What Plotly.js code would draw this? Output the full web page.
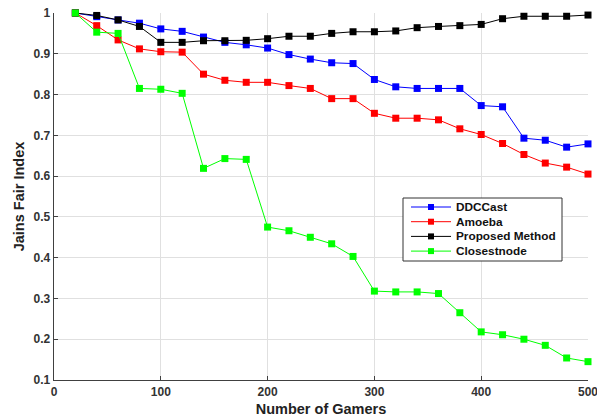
<!DOCTYPE html>
<html>
<head>
<meta charset="utf-8">
<script src="https://cdn.plot.ly/plotly-3.0.1.min.js"></script>
<style>
  html, body { margin: 0; padding: 0; background: #ffffff; }
  #chart { width: 597px; height: 419px; }
</style>
</head>
<body>
<div id="chart"></div>
<script>
// Number of gamers on the x axis
const gamers = [20, 40, 60, 80, 100, 120, 140, 160, 180, 200, 220, 240, 260,
                280, 300, 320, 340, 360, 380, 400, 420, 440, 460, 480, 500];

// Jain's fairness index per method
const ddccast = [1.000, 0.991, 0.983, 0.975, 0.961, 0.955, 0.941, 0.928, 0.922, 0.914,
                 0.898, 0.887, 0.878, 0.876, 0.837, 0.819, 0.815, 0.815, 0.815, 0.773,
                 0.770, 0.693, 0.688, 0.671, 0.679];
const amoeba = [1.000, 0.969, 0.934, 0.912, 0.905, 0.904, 0.850, 0.835, 0.830, 0.830,
                0.822, 0.815, 0.790, 0.790, 0.754, 0.742, 0.742, 0.738, 0.716, 0.702,
                0.680, 0.653, 0.632, 0.622, 0.605];
const proposed = [1.000, 0.994, 0.983, 0.967, 0.928, 0.928, 0.932, 0.932, 0.933, 0.937,
                  0.943, 0.943, 0.950, 0.954, 0.954, 0.956, 0.964, 0.967, 0.969, 0.972,
                  0.986, 0.992, 0.992, 0.992, 0.995];
const closestnode = [1.000, 0.953, 0.950, 0.815, 0.813, 0.803, 0.619, 0.643, 0.641, 0.475,
                     0.466, 0.450, 0.434, 0.403, 0.318, 0.316, 0.316, 0.312, 0.265, 0.218,
                     0.211, 0.200, 0.185, 0.154, 0.145];

const seriesNames = ['DDCCast', 'Amoeba', 'Proposed Method', 'Closestnode'];
const seriesColors = ['#0000ff', '#ff0000', '#000000', '#00ff00'];
const seriesValues = [ddccast, amoeba, proposed, closestnode];

const xTicks = [0, 100, 200, 300, 400, 500];
const yTicks = [0.1, 0.2, 0.3, 0.4, 0.5, 0.6, 0.7, 0.8, 0.9, 1];
const yTickText = ['0.1', '0.2', '0.3', '0.4', '0.5', '0.6', '0.7', '0.8', '0.9', '1'];

const FONT = 'Liberation Sans, Arial, sans-serif';

const W = 597, H = 419;
const M = { l: 54, r: 9, t: 13, b: 39 };
const plotW = W - M.l - M.r;
const plotH = H - M.t - M.b;
// pixel position inside the figure -> paper fraction
const px = v => (v - M.l) / plotW;
const py = v => (H - M.b - v) / plotH;

const traces = seriesNames.map((name, i) => ({
  type: 'scatter',
  mode: 'lines+markers',
  name: name,
  x: gamers,
  y: seriesValues[i],
  cliponaxis: false,
  showlegend: false,
  line: { color: seriesColors[i], width: 1 },
  marker: { symbol: 'square', size: 7, color: seriesColors[i], line: { width: 0 } }
}));

// Compact boxed legend: frame, sample line + square, label per series
const box = { x0: 403, x1: 562, y0: 198, y1: 261 };
const rowTop = 207, rowStep = 14.7;
const shapes = [{
  type: 'rect', xref: 'paper', yref: 'paper', layer: 'above',
  x0: px(box.x0), x1: px(box.x1), y0: py(box.y1), y1: py(box.y0),
  fillcolor: '#ffffff', line: { color: '#333333', width: 1 }
}];
const annotations = [];
seriesNames.forEach((name, i) => {
  const yc = rowTop + i * rowStep;
  shapes.push({
    type: 'line', xref: 'paper', yref: 'paper', layer: 'above',
    x0: px(411), x1: px(451), y0: py(yc), y1: py(yc),
    line: { color: seriesColors[i], width: 1 }
  });
  shapes.push({
    type: 'rect', xref: 'paper', yref: 'paper', layer: 'above',
    x0: px(428), x1: px(434), y0: py(yc + 3), y1: py(yc - 3),
    fillcolor: seriesColors[i], line: { width: 0 }
  });
  annotations.push({
    xref: 'paper', yref: 'paper', x: px(454), y: py(yc),
    xanchor: 'left', yanchor: 'middle', showarrow: false,
    text: name,
    font: { family: FONT, size: 11.8, color: '#111111', weight: 'bold' }
  });
});

const layout = {
  width: W,
  height: H,
  margin: { l: M.l, r: M.r, t: M.t, b: M.b, pad: 0 },
  paper_bgcolor: '#ffffff',
  plot_bgcolor: '#ffffff',
  font: { family: FONT, size: 12, color: '#333333', weight: 'bold' },
  showlegend: false,
  shapes: shapes,
  annotations: annotations,
  xaxis: {
    range: [0, 500],
    tickvals: xTicks,
    ticklabeloverflow: 'allow',
    ticks: 'inside', ticklen: 4, tickcolor: '#404040', tickwidth: 1,
    showline: true, linecolor: '#404040', linewidth: 1.3,
    showgrid: true, gridcolor: '#e0e0e0', gridwidth: 1,
    zeroline: false,
    tickfont: { family: FONT, size: 12, color: '#333333', weight: 'bold' },
    title: { text: 'Number of Gamers', font: { family: FONT, size: 14.5, color: '#222222', weight: 'bold' }, standoff: 6 }
  },
  yaxis: {
    range: [0.1, 1],
    tickvals: yTicks,
    ticktext: yTickText,
    ticks: 'inside', ticklen: 4, tickcolor: '#404040', tickwidth: 1,
    showline: true, linecolor: '#404040', linewidth: 1.3,
    showgrid: true, gridcolor: '#e0e0e0', gridwidth: 1,
    zeroline: false,
    tickfont: { family: FONT, size: 12, color: '#333333', weight: 'bold' },
    title: { text: 'Jains Fair Index', font: { family: FONT, size: 14.5, color: '#222222', weight: 'bold' }, standoff: 5 }
  }
};

Plotly.newPlot('chart', traces, layout, { displayModeBar: false, staticPlot: true });
</script>
</body>
</html>
